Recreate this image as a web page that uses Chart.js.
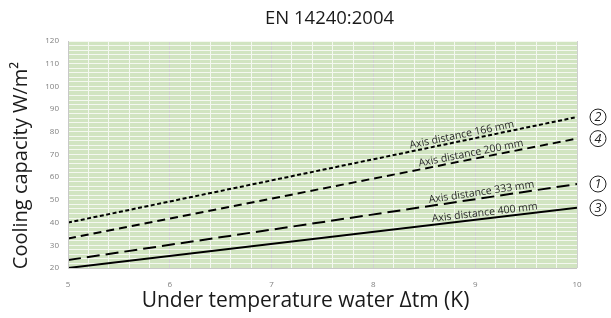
<!DOCTYPE html>
<html>
<head>
<meta charset="utf-8">
<script src="https://cdn.jsdelivr.net/npm/chart.js@4.4.0/dist/chart.umd.min.js"></script>
<style>
html,body{margin:0;padding:0;background:#fff;}
#wrap{width:611px;height:318px;}
</style>
</head>
<body>
<div id="wrap"><canvas id="c" width="611" height="318"></canvas></div>
<script>
// ---- data ----
const xValues = [5, 10];
const series166 = [40, 86.5];
const series200 = [33, 77];
const series333 = [23.5, 57];
const series400 = [20, 46.5];
const seriesNames = ['Axis distance 166 mm', 'Axis distance 200 mm', 'Axis distance 333 mm', 'Axis distance 400 mm'];
const seriesMarks = ['2', '4', '1', '3'];
const labelAtX = [8.88, 8.97, 9.07, 9.1];
const titleText = 'EN 14240:2004';
const xTitle = 'Under temperature water \u0394tm (K)';
const yTitle = 'Cooling capacity W/m\u00B2';

const allSeries = [series166, series200, series333, series400];
const dashes = [[4, 2.5], [8, 5], [13, 6], []];

const datasets = allSeries.map((s, i) => ({
  label: seriesNames[i],
  data: xValues.map((x, k) => ({x: x, y: s[k]})),
  borderColor: '#000',
  borderWidth: 2,
  borderDash: dashes[i],
  pointRadius: 0,
  fill: false,
  tension: 0
}));

const annot = {
  id: 'annot',
  beforeDraw(chart) {
    const {ctx, chartArea: a} = chart;
    ctx.save();
    ctx.fillStyle = '#d1e4c1';
    ctx.fillRect(a.left, a.top, a.right - a.left, a.bottom - a.top);
    ctx.restore();
  },
  afterDraw(chart) {
    const {ctx, chartArea: a} = chart;
    ctx.save();
    ctx.fillStyle = '#1a1a1a';
    ctx.textAlign = 'center';
    ctx.textBaseline = 'middle';
    // chart title
    ctx.font = '18.5px "Open Sans"';
    ctx.fillText(titleText, (a.left + a.right) / 2 + 7, 19);
    // x axis title
    ctx.font = '21px "Open Sans"';
    ctx.fillText(xTitle, chart.width / 2, 301);
    // y axis title
    ctx.save();
    ctx.translate(21, (a.top + a.bottom) / 2 + 11);
    ctx.rotate(-Math.PI / 2);
    ctx.font = '20px "Open Sans"';
    ctx.fillText(yTitle, 0, 0);
    ctx.restore();
    ctx.restore();
  },
  afterDatasetsDraw(chart) {
    const {ctx, chartArea: a} = chart;
    const xs = chart.scales.x, ys = chart.scales.y;
    ctx.save();
    allSeries.forEach((s, i) => {
      const x0 = xs.getPixelForValue(xValues[0]), y0 = ys.getPixelForValue(s[0]);
      const x1 = xs.getPixelForValue(xValues[1]), y1 = ys.getPixelForValue(s[1]);
      const ang = Math.atan2(y1 - y0, x1 - x0);
      const lx = labelAtX[i];
      const lv = s[0] + (s[1] - s[0]) * (lx - xValues[0]) / (xValues[1] - xValues[0]);
      const px = xs.getPixelForValue(lx), py = ys.getPixelForValue(lv);
      ctx.save();
      ctx.translate(px, py);
      ctx.rotate(ang);
      ctx.font = '10.5px "Open Sans"';
      ctx.fillStyle = '#2b2b2b';
      ctx.textAlign = 'center';
      ctx.textBaseline = 'alphabetic';
      ctx.fillText(seriesNames[i], 0, -3);
      ctx.restore();
      // circled numbers
      const cx = a.right + 21, cy = y1;
      ctx.beginPath();
      ctx.arc(cx, cy, 8, 0, Math.PI * 2);
      ctx.strokeStyle = '#222';
      ctx.lineWidth = 1;
      ctx.stroke();
      ctx.font = 'italic 12.5px "Open Sans"';
      ctx.fillStyle = '#222';
      ctx.textAlign = 'center';
      ctx.textBaseline = 'middle';
      ctx.fillText(seriesMarks[i], cx, cy + 0.5);
    });
    // plot borders
    ctx.strokeStyle = '#c8c8c8';
    ctx.lineWidth = 1;
    ctx.beginPath();
    ctx.moveTo(a.left + 0.5, a.top);
    ctx.lineTo(a.left + 0.5, a.bottom + 0.5);
    ctx.lineTo(a.right, a.bottom + 0.5);
    ctx.stroke();
    ctx.restore();
  }
};

new Chart(document.getElementById('c'), {
  type: 'line',
  data: {datasets},
  options: {
    responsive: false,
    animation: false,
    devicePixelRatio: 1,
    layout: {padding: {left: 0, right: 34, top: 41, bottom: 0}},
    plugins: {
      legend: {display: false},
      tooltip: {enabled: false},
      title: {display: false}
    },
    scales: {
      x: {
        type: 'linear',
        min: 5, max: 10,
        afterFit(s) { s.height = 50; },
        border: {display: false},
        grid: {
          color: c => (Math.abs(c.tick.value - Math.round(c.tick.value)) < 1e-6 ? '#d0d0d0' : '#f4f8f0'),
          lineWidth: 1,
          drawTicks: false
        },
        ticks: {
          stepSize: 0.2,
          autoSkip: false,
          maxRotation: 0,
          padding: 12,
          color: '#808080',
          font: {family: '"Open Sans"', size: 8},
          callback: v => (Math.abs(v - Math.round(v)) < 1e-6 ? String(Math.round(v)) : '')
        },
        title: {display: false}
      },
      y: {
        min: 20, max: 120,
        afterFit(s) { s.width = 68; },
        border: {display: false},
        grid: {
          color: '#f4f8f0',
          lineWidth: 1,
          drawTicks: false
        },
        ticks: {
          stepSize: 2,
          autoSkip: false,
          padding: 9,
          color: '#808080',
          font: {family: '"Open Sans"', size: 8},
          callback: v => (v % 10 === 0 ? String(v) : '')
        },
        title: {display: false}
      }
    }
  },
  plugins: [annot]
});
</script>
</body>
</html>
